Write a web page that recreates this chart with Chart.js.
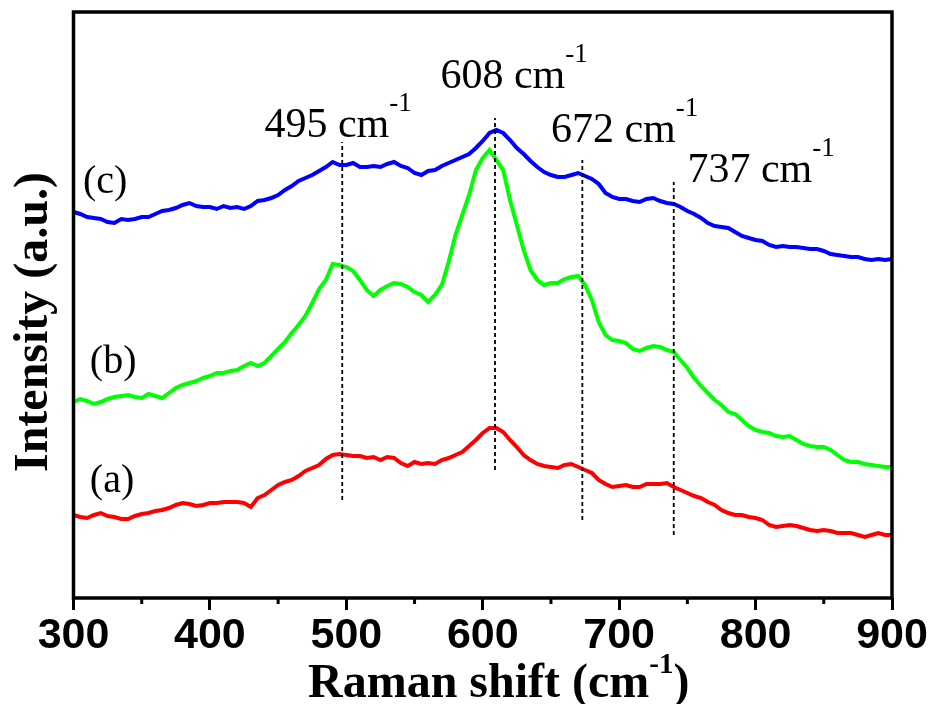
<!DOCTYPE html>
<html>
<head>
<meta charset="utf-8">
<script src="https://cdn.jsdelivr.net/npm/chart.js@4.4.1/dist/chart.umd.min.js"></script>
<style>
  html, body { margin: 0; padding: 0; background: #fff; }
  #wrap { width: 932px; height: 704px; }
</style>
</head>
<body>
<div id="wrap"><canvas id="raman" width="932" height="704"></canvas></div>
<script>
// Raman shift grid (cm-1), read every 5 cm-1
const ramanShift = [
  300, 305, 310, 315, 320, 325, 330, 335, 340, 345, 350, 355, 360, 365, 370, 375, 380, 385, 390, 395,
  400, 405, 410, 415, 420, 425, 430, 435, 440, 445, 450, 455, 460, 465, 470, 475, 480, 485, 490, 495,
  500, 505, 510, 515, 520, 525, 530, 535, 540, 545, 550, 555, 560, 565, 570, 575, 580, 585, 590, 595,
  600, 605, 610, 615, 620, 625, 630, 635, 640, 645, 650, 655, 660, 665, 670, 675, 680, 685, 690, 695,
  700, 705, 710, 715, 720, 725, 730, 735, 740, 745, 750, 755, 760, 765, 770, 775, 780, 785, 790, 795,
  800, 805, 810, 815, 820, 825, 830, 835, 840, 845, 850, 855, 860, 865, 870, 875, 880, 885, 890, 895,
  900
];

// (a) red
const intensityA = [
  83, 81, 80, 83, 85, 82, 81, 79, 79, 82, 84, 85, 87, 88, 90, 93, 95, 94, 92, 93,
  95, 95, 96, 96, 96, 95, 91, 100, 103, 108, 113, 116, 118, 122, 127, 130, 133, 139, 143, 144,
  143, 142, 142, 140, 141, 138, 141, 140, 135, 132, 136, 134, 135, 134, 138, 140, 143, 146, 152, 158,
  165, 170, 170, 166, 158, 151, 143, 138, 134, 132, 131, 130, 133, 134, 131, 128, 125, 118, 114, 111,
  112, 113, 111, 111, 114, 114, 114, 115, 111, 108, 105, 102, 100, 96, 93, 88, 85, 83, 83, 81,
  80, 78, 73, 71, 72, 73, 72, 70, 68, 67, 68, 67, 65, 65, 65, 63, 61, 63, 65, 63,
  63
];

// (b) green
const intensityB = [
  196, 199, 197, 194, 196, 199, 201, 202, 203, 201, 200, 204, 202, 200, 205, 210, 213, 215, 217, 220,
  222, 225, 225, 227, 228, 232, 235, 232, 235, 242, 249, 256, 265, 273, 282, 295, 309, 318, 334, 333,
  331, 327, 318, 308, 302, 308, 312, 315, 314, 311, 306, 303, 296, 303, 313, 336, 363, 383, 403, 428,
  440, 448, 438, 428, 398, 373, 348, 328, 318, 313, 315, 315, 319, 321, 322, 313, 298, 276, 263, 258,
  257, 255, 249, 247, 250, 252, 251, 248, 246, 238, 230, 220, 212, 205, 198, 193, 186, 184, 178, 172,
  168, 166, 165, 162, 161, 162, 158, 154, 152, 151, 151, 148, 143, 138, 136, 136, 134, 133, 132, 131,
  131
];

// (c) blue
const intensityC = [
  386, 384, 381, 380, 379, 376, 375, 379, 378, 379, 381, 381, 384, 387, 388, 390, 393, 395, 392, 391,
  391, 389, 392, 390, 391, 389, 392, 397, 398, 400, 403, 408, 412, 417, 420, 423, 427, 431, 436, 433,
  433, 435, 431, 431, 432, 431, 434, 436, 432, 430, 425, 423, 427, 428, 432, 435, 438, 441, 444, 450,
  457, 465, 468, 465, 458, 450, 444, 437, 431, 426, 423, 421, 421, 423, 425, 422, 419, 414, 405, 401,
  399, 399, 397, 396, 399, 400, 397, 395, 394, 391, 387, 384, 380, 375, 372, 371, 370, 366, 362, 360,
  358, 357, 353, 351, 352, 351, 351, 350, 349, 349, 347, 344, 343, 342, 341, 341, 339, 338, 339, 338,
  339
];

// dashed peak markers
const peakShift = [497, 609, 673, 740];
const peakLabels = ['495', '608', '672', '737'];
const peakLineTop = [456, 480, 438, 416];
const peakLineBottom = [98, 128, 78, 63];

const curveLabels = ['(a)', '(b)', '(c)'];

const toPoints = (ys) => ramanShift.map((x, i) => ({ x, y: ys[i] }));

const curveSets = [
    { label: '(a)', data: toPoints(intensityA), color: '#ff0000' },
    { label: '(b)', data: toPoints(intensityB), color: '#00ff00' },
    { label: '(c)', data: toPoints(intensityC), color: '#0000ff' },
].map(s => ({
    label: s.label,
    data: s.data,
    borderColor: s.color,
    borderWidth: 4,
    pointRadius: 0,
    tension: 0,
    fill: false,
}));

const markerSets = peakShift.map((x, i) => ({
    label: peakLabels[i] + ' cm-1',
    data: [{ x, y: peakLineBottom[i] }, { x, y: peakLineTop[i] }],
    borderColor: '#000',
    borderWidth: 1.8,
    borderDash: [4, 3],
    pointRadius: 0,
    fill: false,
}));

// where the text sits, in data units (left edge / baseline)
const peakLabelAt = [[440, 461], [569, 510], [650, 456], [750, 416]];
const curveLabelAt = [[312, 106], [312, 225], [307, 405]];

function textWithSup(ctx, parts, x, y) {
    // parts: [text, font, rise]
    let cx = x;
    parts.forEach(([t, font, rise]) => {
        ctx.font = font;
        ctx.fillText(t, cx, y - rise);
        cx += ctx.measureText(t).width;
    });
    return cx - x;
}

function measureParts(ctx, parts) {
    return parts.reduce((w, [t, font]) => { ctx.font = font; return w + ctx.measureText(t).width; }, 0);
}

const decorPlugin = {
    id: 'decor',
    afterDraw(chart) {
        const { ctx, chartArea: a, scales: { x, y } } = chart;
        ctx.save();
        ctx.fillStyle = '#000';
        ctx.strokeStyle = '#000';

        // frame
        ctx.lineWidth = 3.5;
        ctx.strokeRect(a.left, a.top, a.right - a.left, a.bottom - a.top);

        // minor ticks
        ctx.lineWidth = 3;
        for (let v = 350; v < 900; v += 100) {
            const px = x.getPixelForValue(v);
            ctx.beginPath();
            ctx.moveTo(px, a.bottom);
            ctx.lineTo(px, a.bottom + 6);
            ctx.stroke();
        }

        // peak labels
        ctx.textAlign = 'left';
        ctx.textBaseline = 'alphabetic';
        peakLabels.forEach((lab, i) => {
            const [lx, ly] = peakLabelAt[i];
            textWithSup(ctx, [
                [lab + ' cm', '42px "Liberation Serif"', 0],
                ['-1', '27px "Liberation Serif"', 26],
            ], x.getPixelForValue(lx), y.getPixelForValue(ly));
        });

        // curve labels
        ctx.font = '40px "Liberation Serif"';
        curveLabels.forEach((lab, i) => {
            const [lx, ly] = curveLabelAt[i];
            ctx.fillText(lab, x.getPixelForValue(lx), y.getPixelForValue(ly));
        });

        // x title
        const xParts = [
            ['Raman shift (cm', 'bold 48px "Liberation Serif"', 0],
            ['-1', 'bold 29px "Liberation Serif"', 24],
            [')', 'bold 48px "Liberation Serif"', 0],
        ];
        const xw = measureParts(ctx, xParts);
        const xc = (a.left + a.right) / 2 + 16;
        textWithSup(ctx, xParts, xc - xw / 2, 697);

        // y title
        ctx.save();
        ctx.translate(47, (a.top + a.bottom) / 2 + 17);
        ctx.rotate(-Math.PI / 2);
        ctx.textAlign = 'center';
        ctx.font = 'bold 48px "Liberation Serif"';
        ctx.fillText('Intensity (a.u.)', 0, 0);
        ctx.restore();

        ctx.restore();
    }
};

new Chart(document.getElementById('raman').getContext('2d'), {
    type: 'line',
    data: { datasets: [...markerSets, ...curveSets] },
    options: {
        responsive: false,
        animation: false,
        layout: { padding: { top: 12, right: 40, left: 0, bottom: 0 } },
        plugins: { legend: { display: false }, tooltip: { enabled: false } },
        scales: {
            x: {
                type: 'linear',
                min: 300,
                max: 900,
                afterFit: s => { s.height = 106; },
                border: { display: false },
                grid: {
                    drawOnChartArea: false,
                    drawTicks: true,
                    tickLength: 12,
                    tickWidth: 3,
                    tickColor: '#000',
                },
                ticks: {
                    stepSize: 100,
                    padding: 0,
                    color: '#000',
                    maxRotation: 0,
                    font: { family: '"Liberation Sans"', size: 43, weight: 'bold' },
                },
            },
            y: {
                min: 0,
                max: 586,
                afterFit: s => { s.width = 73.5; },
                border: { display: false },
                grid: { display: false },
                ticks: { display: false },
            }
        }
    },
    plugins: [decorPlugin],
});
</script>
</body>
</html>
